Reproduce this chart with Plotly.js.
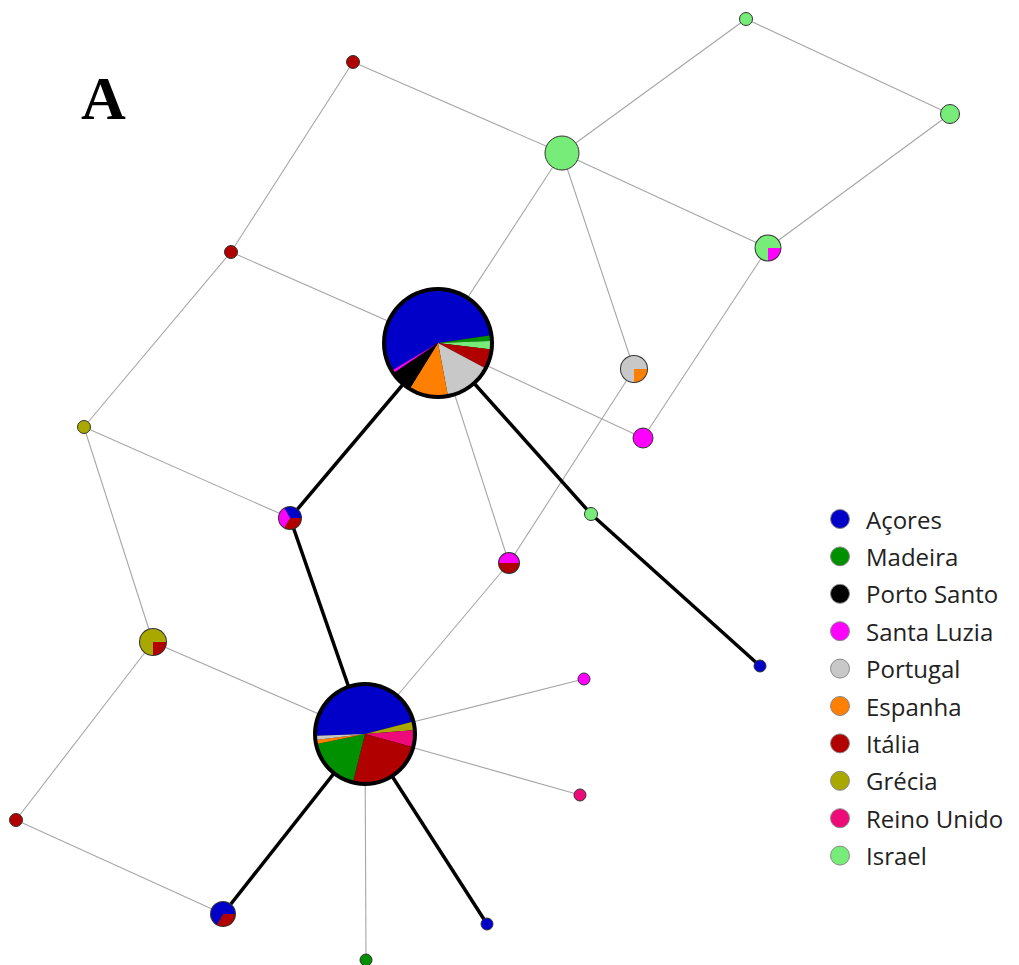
<!DOCTYPE html>
<html>
<head>
<meta charset="utf-8">
<script src="https://cdn.plot.ly/plotly-3.0.1.min.js"></script>
<style>html,body{margin:0;padding:0;background:#fff;}#chart{width:1019px;height:965px;}</style>
</head>
<body>
<div id="chart"></div>
<script>
// Regions (legend order) and their colours
var regions = ["Açores","Madeira","Porto Santo","Santa Luzia","Portugal","Espanha","Itália","Grécia","Reino Unido","Israel"];
var regionColors = ["#0000c8","#009000","#000000","#ff00ff","#c8c8c8","#ff8000","#b00000","#a8a800","#ee0a78","#78ec78"];

// Haplotype nodes: layout position (px), drawn radius, and sample composition
var nodeX = [438, 365, 562, 746, 950, 768, 353, 231, 84, 634, 643, 290, 591, 509, 153, 760, 584, 580, 16, 223, 487, 366];
var nodeY = [343, 734, 153, 19, 114, 248, 62, 252, 427, 369, 438, 518, 514, 563, 642, 666, 679, 795, 820, 914, 924, 960];
var nodeR = [52, 48, 17, 6.5, 9.5, 12.5, 6.5, 6.5, 6.5, 13, 10, 11, 6.5, 10, 13, 6, 6, 6, 6.5, 12, 6, 6];
var nodeRotation = [239, 268, 0, 0, 0, 180, 0, 0, 0, 90, 0, 330, 0, 270, 90, 0, 0, 0, 0, 90, 0, 0];
var nodeBorder = [4, 4, 1, 1, 1, 1, 1, 1, 1, 1, 1, 1, 1, 1, 1, 1, 1, 1, 1, 1, 1, 1];
// composition: list of [region, count] in clockwise order
var nodeComp = [
  [["Açores",67],["Madeira",2],["Israel",3],["Itália",7],["Portugal",17],["Espanha",14],["Porto Santo",8],["Santa Luzia",1]],
  [["Açores",34],["Grécia",2],["Reino Unido",4],["Itália",18],["Madeira",13],["Espanha",1],["Portugal",1]],
  [["Israel",5]],
  [["Israel",1]],
  [["Israel",2]],
  [["Israel",3],["Santa Luzia",1]],
  [["Itália",1]],
  [["Itália",1]],
  [["Grécia",1]],
  [["Espanha",1],["Portugal",3]],
  [["Santa Luzia",2]],
  [["Açores",1],["Itália",1],["Santa Luzia",1]],
  [["Israel",1]],
  [["Santa Luzia",1],["Itália",1]],
  [["Itália",1],["Grécia",3]],
  [["Açores",1]],
  [["Santa Luzia",1]],
  [["Reino Unido",1]],
  [["Itália",1]],
  [["Itália",1],["Açores",2]],
  [["Açores",1]],
  [["Madeira",1]]
];
// Network edges [from, to]
var thinEdges = [[6,2],[6,7],[3,2],[3,4],[4,5],[2,5],[2,9],[2,0],[7,0],[7,8],[8,11],[8,14],[5,10],[0,10],[0,13],[9,13],[13,1],[14,1],[14,18],[18,19],[1,16],[1,17],[1,21]];
var thickEdges = [[0,11],[11,1],[1,19],[1,20],[0,12],[12,15]];

var W = 1019, H = 965;
function colorOf(name){ return regionColors[regions.indexOf(name)]; }
function edgeXY(list){
  var x=[], y=[];
  list.forEach(function(e){ x.push(nodeX[e[0]], nodeX[e[1]], null); y.push(nodeY[e[0]], nodeY[e[1]], null); });
  return {x:x, y:y};
}
var traces = [];
var te = edgeXY(thinEdges);
traces.push({type:'scatter', mode:'lines', x:te.x, y:te.y, line:{color:'#a6a6a6', width:1.1}, hoverinfo:'skip', showlegend:false});
var tk = edgeXY(thickEdges);
traces.push({type:'scatter', mode:'lines', x:tk.x, y:tk.y, line:{color:'#000', width:3.5}, hoverinfo:'skip', showlegend:false});

// single-colour nodes as markers; multi-colour nodes as pies over a dark outline disc
var sx=[], sy=[], ss=[], sc=[], ox=[], oy=[], os=[], oc=[];
nodeComp.forEach(function(comp, i){
  if(comp.length === 1){
    sx.push(nodeX[i]); sy.push(nodeY[i]); ss.push(2*nodeR[i]); sc.push(colorOf(comp[0][0]));
  } else {
    ox.push(nodeX[i]); oy.push(nodeY[i]); os.push(2*(nodeR[i]+nodeBorder[i])); oc.push(nodeBorder[i] > 2 ? '#000' : '#333');
  }
});
traces.push({type:'scatter', mode:'markers', x:ox, y:oy, marker:{size:os, color:oc, opacity:1, line:{width:0}}, hoverinfo:'skip', showlegend:false});
traces.push({type:'scatter', mode:'markers', x:sx, y:sy, marker:{size:ss, color:sc, opacity:1, line:{color:'#333', width:1}}, hoverinfo:'skip', showlegend:false});

nodeComp.forEach(function(comp, i){
  if(comp.length < 2) return;
  var r = nodeR[i];
  traces.push({
    type:'pie', sort:false, direction:'clockwise', rotation:nodeRotation[i],
    labels: comp.map(function(c){return c[0];}),
    values: comp.map(function(c){return c[1];}),
    marker:{colors: comp.map(function(c){return colorOf(c[0]);}), line:{width:0}},
    textinfo:'none', hoverinfo:'skip', showlegend:false,
    domain:{x:[(nodeX[i]-r)/W, (nodeX[i]+r)/W], y:[1-(nodeY[i]+r)/H, 1-(nodeY[i]-r)/H]}
  });
});

// legend
var legX = 840, legY0 = 519, legStep = 37.4;
var legY = regions.map(function(_, k){ return legY0 + k*legStep; });
traces.push({type:'scatter', mode:'markers', x:regions.map(function(){return legX;}), y:legY,
  marker:{size:19, color:regionColors, opacity:1, line:{color:'#888', width:1}}, hoverinfo:'skip', showlegend:false});
var annotations = regions.map(function(name, k){
  return {x:legX+24, y:legY[k], xref:'x', yref:'y', text:name, showarrow:false, xanchor:'left', yanchor:'middle',
    font:{family:'Open Sans, sans-serif', size:24, color:'#222'}};
});
annotations.push({x:103, y:98, xref:'x', yref:'y', text:'<b>A</b>', showarrow:false, xanchor:'center', yanchor:'middle',
  font:{family:'Liberation Serif, serif', size:62, color:'#000'}});

var layout = {
  width:W, height:H, margin:{l:0,r:0,t:0,b:0}, paper_bgcolor:'#fff', plot_bgcolor:'#fff', showlegend:false,
  xaxis:{range:[0,W], visible:false, fixedrange:true},
  yaxis:{range:[H,0], visible:false, fixedrange:true},
  annotations: annotations
};
Plotly.newPlot('chart', traces, layout, {staticPlot:true});
</script>
</body>
</html>
